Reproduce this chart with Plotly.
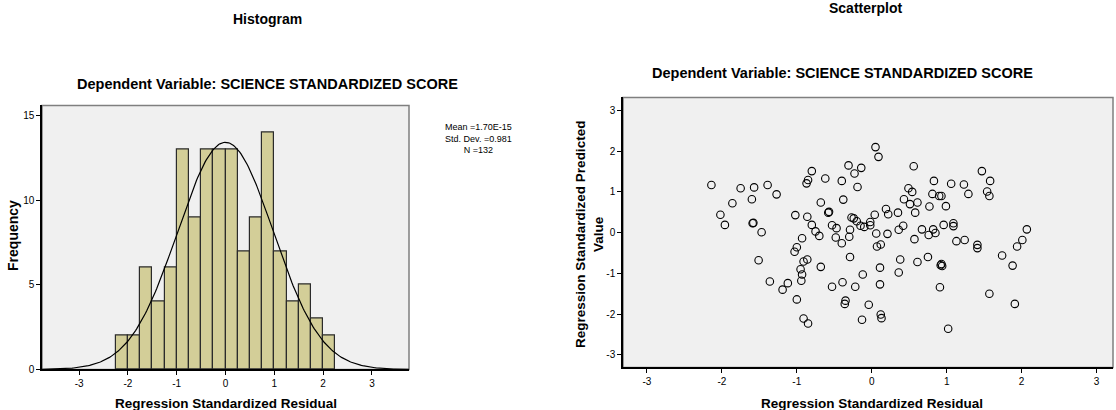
import numpy as np
import plotly.graph_objects as go

# ---------------- Data ----------------
bin_left = [-2.25, -2.0, -1.75, -1.5, -1.25, -1.0, -0.75, -0.5, -0.25,
            0.0, 0.25, 0.5, 0.75, 1.0, 1.25, 1.5, 1.75, 2.0]
bin_counts = [2, 2, 6, 4, 6, 13, 9, 13, 13, 13, 7, 9, 14, 7, 4, 5, 3, 2]
bin_width = 0.25
stat_mean = 1.70e-15
stat_sd = 0.981
stat_n = 132

resid_x = [-2.14, -1.75, -1.57, -1.39, -1.27, -1.60, -1.86, -2.02, -1.96, -1.59,
           -1.58, -1.47, -0.80, -0.85, -0.87, -1.02, -0.86, -0.80, -0.75, -0.68,
           0.05, 0.09, -0.31, -0.14, -0.23, -0.62, -0.40, -0.19, 0.56, 0.83,
           0.49, 0.54, 0.81, 0.43, 0.51, 0.61, 0.77, -0.38, -0.58, -0.57,
           -0.27, -0.24, -0.20, -0.15, -0.10, -0.02, -0.02, 0.04, 0.19, 0.22,
           0.35, 0.58, 0.42, 0.36, -0.53, -0.47, -0.29, 0.06, 0.21, 0.67,
           0.82, 0.85, 1.47, 1.58, 1.06, 1.23, 0.90, 0.93, 1.29, 1.54,
           1.57, 0.99, 0.96, 1.09, 1.09, 2.07, -0.93, -1.00, -1.03, -1.51,
           -0.91, -0.86, -0.95, -0.93, -0.94, -1.36, -1.12, -1.19, -1.00, -0.91,
           -0.85, -0.70, -0.48, -0.30, -0.40, 0.12, 0.07, 0.57, 0.76, -0.29,
           -0.68, 0.38, 0.61, 0.75, 0.11, 0.36, -0.12, -0.39, -0.53, -0.22,
           0.11, -0.35, -0.36, -0.04, 0.12, 0.13, -0.13, 1.13, 1.24, 1.41,
           1.41, 1.74, 1.94, 2.01, 1.88, 0.93, 0.94, 0.92, 0.91, 1.57,
           1.91, 1.02]
pred_y = [1.17, 1.09, 1.11, 1.17, 0.94, 0.82, 0.72, 0.44, 0.19, 0.23,
          0.24, 0.01, 1.51, 1.29, 1.21, 0.43, 0.39, 0.19, 0.03, 0.74,
          2.10, 1.86, 1.65, 1.59, 1.45, 1.33, 1.27, 1.12, 1.63, 1.27,
          1.09, 1.00, 0.95, 0.82, 0.70, 0.74, 0.64, 0.81, 0.49, 0.51,
          0.37, 0.35, 0.28, 0.17, 0.14, 0.26, 0.18, 0.44, 0.58, 0.45,
          0.49, 0.49, 0.17, 0.07, 0.18, 0.11, 0.07, -0.02, -0.03, 0.08,
          0.08, -0.01, 1.51, 1.27, 1.20, 1.18, 0.90, 0.90, 0.95, 1.01,
          0.90, 0.65, 0.19, 0.23, 0.16, 0.08, -0.14, -0.36, -0.47, -0.68,
          -0.71, -0.66, -0.90, -1.03, -1.18, -1.20, -1.24, -1.40, -1.64, -2.11,
          -2.23, -0.08, -0.12, -0.10, -0.26, -0.29, -0.34, -0.16, -0.06, -0.60,
          -0.84, -0.66, -0.72, -0.60, -0.86, -0.98, -1.03, -1.22, -1.33, -1.33,
          -1.27, -1.67, -1.75, -1.77, -2.01, -2.10, -2.14, -0.21, -0.18, -0.30,
          -0.38, -0.56, -0.34, -0.18, -0.81, -0.77, -0.82, -0.80, -1.34, -1.50,
          -1.75, -2.36]

tick_vals = [-3, -2, -1, 0, 1, 2, 3]
tick_text = ["-3", "-2", "-1", "0", "1", "2", "3"]
hist_y_ticks = [0, 5, 10, 15]

# ---------------- Layout helpers ----------------
W, H = 1116, 410
H_EFF = 403.4   # effective rendered height used for placement
def px_x(p):
    return p / W
def px_y(p):
    return 1 - p / H_EFF

hist_dom_x = [px_x(42), px_x(409)]
hist_dom_y = [px_y(368), px_y(105)]
sc_dom_x = [px_x(623), px_x(1113)]
sc_dom_y = [px_y(366), px_y(97)]

FONT = "Liberation Sans, Arial, sans-serif"
BAR_COLOR = "#D3CE98"
BG = "#F0F0F0"

fig = go.Figure()

# Histogram bars
centers = [b + bin_width / 2 for b in bin_left]
fig.add_trace(go.Bar(
    x=centers, y=bin_counts, width=bin_width,
    marker=dict(color=BAR_COLOR, line=dict(color="#2b2b2b", width=1.2)),
    xaxis="x", yaxis="y", showlegend=False, hoverinfo="x+y"))

# Normal curve
xs = np.linspace(-3.8, 3.8, 300)
ys = stat_n * bin_width / (stat_sd * np.sqrt(2 * np.pi)) * np.exp(-0.5 * ((xs - stat_mean) / stat_sd) ** 2)
fig.add_trace(go.Scatter(x=xs, y=ys, mode="lines",
                         line=dict(color="black", width=1.2),
                         xaxis="x", yaxis="y", showlegend=False, hoverinfo="skip"))

# Scatter
fig.add_trace(go.Scatter(x=resid_x, y=pred_y, mode="markers",
                         marker=dict(symbol="circle-open", size=7.5,
                                     color="black", line=dict(width=1.1)),
                         xaxis="x2", yaxis="y2", showlegend=False))

axis_common = dict(showgrid=False, zeroline=False, showline=True,
                   linecolor="black", linewidth=1.5, ticks="outside",
                   ticklen=4, tickcolor="black",
                   tickfont=dict(family=FONT, size=10, color="black"))

fig.update_layout(
    width=W, height=H, autosize=False,
    margin=dict(l=0, r=0, t=0, b=0),
    paper_bgcolor="white",
    plot_bgcolor=BG,
    bargap=0,
    xaxis=dict(domain=hist_dom_x, range=[-3.76, 3.76], tickvals=tick_vals,
               ticktext=tick_text, anchor="y", **axis_common),
    yaxis=dict(domain=hist_dom_y, range=[0, 15.6], tickvals=hist_y_ticks,
               anchor="x", **axis_common),
    xaxis2=dict(domain=sc_dom_x, range=[-3.32, 3.22], tickvals=tick_vals,
                ticktext=tick_text, anchor="y2", **axis_common),
    yaxis2=dict(domain=sc_dom_y, range=[-3.31, 3.32], tickvals=tick_vals,
                ticktext=tick_text, anchor="x2", **axis_common),
)

# Grey frame (top/right borders)
for dx, dy in [(hist_dom_x, hist_dom_y), (sc_dom_x, sc_dom_y)]:
    fig.add_shape(type="rect", xref="paper", yref="paper",
                  x0=dx[0], x1=dx[1], y0=dy[0], y1=dy[1],
                  line=dict(color="#7f7f7f", width=1.5), layer="below")

def ann(text, x, y, size=13, bold=True, angle=0):
    fig.add_annotation(text=f"<b>{text}</b>" if bold else text,
                       x=px_x(x), y=px_y(y), xref="paper", yref="paper",
                       showarrow=False, textangle=angle,
                       font=dict(family=FONT, size=size, color="black"),
                       xanchor="center", yanchor="middle")

ann("Histogram", 267, 19, size=14)
ann("Dependent Variable: SCIENCE STANDARDIZED SCORE", 267, 84, size=14.5)
ann("Frequency", 13, 235, size=14, angle=-90)
ann("Regression Standardized Residual", 226, 402, size=13.5)
ann(f"Mean =1.70E-15<br>Std. Dev. =0.981<br>N ={stat_n}", 478, 138, size=9, bold=False)

ann("Scatterplot", 865, 8, size=14)
ann("Dependent Variable: SCIENCE STANDARDIZED SCORE", 842, 73, size=14.5)
ann("Regression Standardized Predicted<br>Value", 590, 234, size=13.5, angle=-90)
ann("Regression Standardized Residual", 872, 402, size=13.5)

fig.write_html("out.html",
               config={"displayModeBar": False, "responsive": False},
               default_width="1116px", default_height="410px",
               post_script="document.body.style.margin='0px';document.body.style.overflow='hidden';")
